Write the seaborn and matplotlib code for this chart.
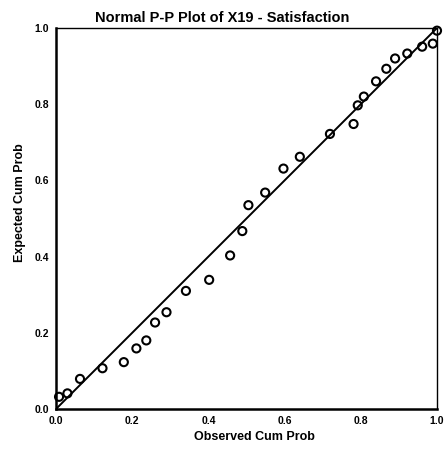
import matplotlib
matplotlib.use("Agg")
import matplotlib.pyplot as plt
import seaborn as sns
import pandas as pd

observed = [0.008, 0.030, 0.063, 0.122, 0.178, 0.211, 0.237, 0.260, 0.290, 0.341,
            0.402, 0.457, 0.489, 0.505, 0.549, 0.597, 0.640, 0.719, 0.781, 0.792,
            0.808, 0.840, 0.867, 0.890, 0.922, 0.961, 0.989, 1.000]
expected = [0.032, 0.041, 0.079, 0.107, 0.123, 0.159, 0.180, 0.227, 0.254, 0.310,
            0.339, 0.403, 0.467, 0.535, 0.568, 0.631, 0.662, 0.722, 0.748, 0.797,
            0.820, 0.860, 0.893, 0.920, 0.933, 0.951, 0.959, 0.993]
ref_line = [0.0, 1.0]
ticks = [0.0, 0.2, 0.4, 0.6, 0.8, 1.0]
tick_labels = ["0.0", "0.2", "0.4", "0.6", "0.8", "1.0"]

sns.set_style("white")
plt.rcParams['font.family'] = ['Liberation Sans', 'DejaVu Sans']
plt.rcParams['text.color'] = 'black'
plt.rcParams['axes.labelcolor'] = 'black'
plt.rcParams['xtick.color'] = 'black'
plt.rcParams['ytick.color'] = 'black'

df = pd.DataFrame({"Observed Cum Prob": observed, "Expected Cum Prob": expected})
line_df = pd.DataFrame({"x": ref_line, "y": ref_line})

fig = plt.figure(figsize=(4.45, 4.57), dpi=100)
ax = fig.add_axes([56/445, 1 - 409/457, 381/445, 381/457])

sns.lineplot(data=line_df, x="x", y="y", ax=ax, color="black", linewidth=1.4)
sns.scatterplot(data=df, x="Observed Cum Prob", y="Expected Cum Prob", ax=ax,
                marker="o", s=34, facecolor="none", edgecolor="black", linewidth=1.5,
                zorder=3, clip_on=False)

ax.set_xlim(0, 1)
ax.set_ylim(0, 1)
ax.set_xticks(ticks)
ax.set_xticklabels(tick_labels, fontsize=7.5, fontweight="bold", color="black")
ax.set_yticks(ticks)
ax.set_yticklabels(tick_labels, fontsize=7.5, fontweight="bold", color="black")
ax.tick_params(axis="both", direction="out", length=4, width=1.2, color="black", pad=1)
for s in ax.spines.values():
    s.set_color("black")
ax.spines["left"].set_linewidth(1.8)
ax.spines["bottom"].set_linewidth(1.8)
ax.spines["top"].set_linewidth(1.0)
ax.spines["right"].set_linewidth(1.0)
ax.spines["top"].set_linestyle((0, (2, 1)))
ax.spines["right"].set_linestyle((0, (2, 1)))

ax.set_xlabel("Observed Cum Prob", fontsize=9, fontweight="bold", color="black")
ax.set_ylabel("Expected Cum Prob", fontsize=9, fontweight="bold", color="black")
ax.xaxis.set_label_coords(0.52, -(437 - 409) / 381)
ax.xaxis.label.set_va("center")
ax.yaxis.set_label_coords((20 - 56) / 381, (409 - 203) / 381)
ax.yaxis.label.set_va("center")
ax.yaxis.label.set_ha("center")
ax.set_title("Normal P-P Plot of X19 - Satisfaction", fontsize=10.5, fontweight="bold",
             color="black", x=(222.5 - 56) / 381, pad=4)

fig.savefig("out.png", dpi=100)
